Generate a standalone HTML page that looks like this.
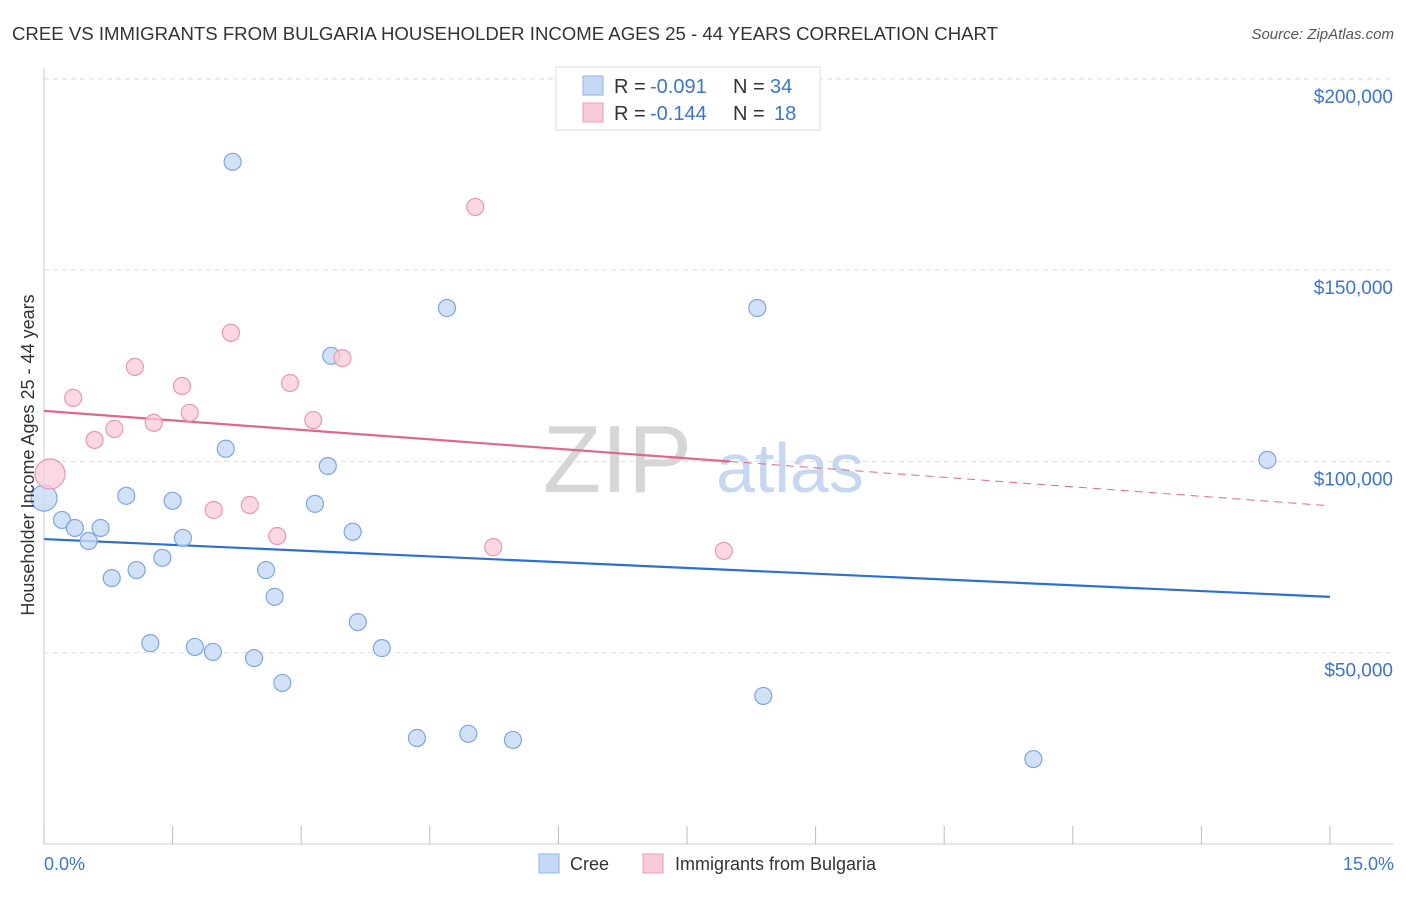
<!DOCTYPE html>
<html><head><meta charset="utf-8"><style>
body{margin:0;background:#fff;font-family:"Liberation Sans",sans-serif;}
svg text{font-family:"Liberation Sans",sans-serif;}
</style></head><body>
<svg id="chart" width="1406" height="892" xmlns="http://www.w3.org/2000/svg">
<text x="12" y="40" font-size="18" fill="#333" textLength="986" lengthAdjust="spacingAndGlyphs">CREE VS IMMIGRANTS FROM BULGARIA HOUSEHOLDER INCOME AGES 25 - 44 YEARS CORRELATION CHART</text>
<text x="1394" y="39" font-size="15" fill="#555" font-style="italic" text-anchor="end">Source: ZipAtlas.com</text>
<g id="grid"></g>
<text x="692" y="492" font-size="96" fill="#d6d6d6" font-family="Liberation Serif" text-anchor="end">ZIP</text>
<text x="716" y="492" font-size="70" fill="#c6d7ef">atlas</text>
<g id="lines"></g>
<g id="points"></g>
<text x="34" y="455" font-size="18" fill="#333" text-anchor="middle" transform="rotate(-90 34 455)">Householder Income Ages 25 - 44 years</text>
<text x="44" y="870" font-size="18" fill="#3b74d1">0.0%</text>
<text x="1394" y="870" font-size="18" fill="#3b74d1" text-anchor="end">15.0%</text>
<g>
<rect x="556" y="67" width="264" height="63" fill="#fff" stroke="#ddd"/>
<rect x="583" y="76" width="20" height="19" fill="#c5d9f5" stroke="#8fb2e6"/>
<rect x="583" y="103" width="20" height="19" fill="#f9cbd8" stroke="#ea9db6"/>
<text x="614" y="93" font-size="20" fill="#333">R =</text>
<text x="650" y="93" font-size="20" fill="#3b74d1">-0.091</text>
<text x="733" y="93" font-size="20" fill="#333">N =</text>
<text x="770" y="93" font-size="20" fill="#3b74d1">34</text>
<text x="614" y="120" font-size="20" fill="#333">R =</text>
<text x="650" y="120" font-size="20" fill="#3b74d1">-0.144</text>
<text x="733" y="120" font-size="20" fill="#333">N =</text>
<text x="774" y="120" font-size="20" fill="#3b74d1">18</text>
</g>
<g>
<rect x="539" y="854" width="20" height="19" fill="#c5d9f5" stroke="#8fb2e6"/>
<text x="570" y="870" font-size="18" fill="#333">Cree</text>
<rect x="643" y="854" width="20" height="19" fill="#f9cbd8" stroke="#ea9db6"/>
<text x="675" y="870" font-size="18" fill="#333">Immigrants from Bulgaria</text>
</g>
</svg>
<script>
const yTicks=[50000,100000,150000,200000];
const yTickLabels=["$50,000","$100,000","$150,000","$200,000"];
const xTicks=[0,1.5,3,4.5,6,7.5,9,10.5,12,13.5,15];
const creeX=[2.20,4.70,8.32,3.35,2.12,14.27,3.31,0.96,1.50,3.16,0.0,0.21,0.36,0.66,0.52,1.62,3.60,1.38,1.08,2.59,0.79,2.69,3.66,1.24,1.76,1.97,2.45,3.94,2.78,8.39,4.35,4.95,5.47,11.54];
const creeY=[178300,140100,140100,127600,103300,100400,98800,91000,89700,88900,90400,84700,82600,82600,79200,80000,81600,74800,71600,71600,69500,64600,58000,52500,51500,50200,48600,51200,42100,38700,27700,28800,27200,22200];
const bulX=[5.03,2.18,1.06,3.48,2.87,1.61,0.34,1.70,3.14,1.28,0.82,0.59,0.07,2.40,1.98,2.72,5.24,7.93];
const bulY=[166500,133600,124700,127000,120500,119700,116600,112700,110800,110100,108500,105600,96700,88600,87300,80500,77600,76600];
const creeTrend=[79700,64600];
const bulTrend=[113200,88400];
const bulSolidEnd=8.0;
const NS="http://www.w3.org/2000/svg";
const sx=v=>44+v/15*1286, sy=v=>844-v/50000*191.3;
function mk(t,a,p){const e=document.createElementNS(NS,t);for(const k in a)e.setAttribute(k,a[k]);p.appendChild(e);return e;}
const grid=document.getElementById('grid');
yTicks.forEach((t,i)=>{
 const l=mk('line',{x1:44,x2:1394,y1:sy(t),y2:sy(t),stroke:'#ddd','stroke-dasharray':'5,4'},grid);
 
 
 const tx=mk('text',{x:1393,y:sy(t)+24,'font-size':19,fill:'#3b74d1','text-anchor':'end'},grid);
 tx.textContent=yTickLabels[i];
 
 
});
const topg=mk('line',{x1:44,x2:1394,y1:79,y2:79,stroke:'#ddd','stroke-dasharray':'5,4'},grid);


const ya=mk('line',{x1:44,x2:44,y1:68,y2:844,stroke:'#ccc'},grid);


const xa=mk('line',{x1:44,x2:1394,y1:844,y2:844,stroke:'#ccc'},grid);


xTicks.forEach(t=>{
 const l=mk('line',{x1:sx(t),x2:sx(t),y1:826,y2:844,stroke:'#bbb'},grid);
 
 
});
const lines=document.getElementById('lines');
const cl=mk('line',{x1:sx(0),y1:sy(creeTrend[0]),x2:sx(15),y2:sy(creeTrend[1]),stroke:'#2d6fd3','stroke-width':2.2},lines);


const yAt=x=>bulTrend[0]+(bulTrend[1]-bulTrend[0])*x/15;
const bl=mk('line',{x1:sx(0),y1:sy(bulTrend[0]),x2:sx(bulSolidEnd),y2:sy(yAt(bulSolidEnd)),stroke:'#e0668e','stroke-width':2.2},lines);


const bd=mk('line',{x1:sx(bulSolidEnd),y1:sy(yAt(bulSolidEnd)),x2:sx(15),y2:sy(bulTrend[1]),stroke:'#e0668e','stroke-width':1,'stroke-dasharray':'8,6'},lines);


const pts=document.getElementById('points');
creeX.forEach((x,i)=>{
 const c=mk('circle',{cx:sx(x),cy:sy(creeY[i]),r:x<0.05?13:8.5,fill:'#c5d9f5','fill-opacity':0.8,stroke:'#7ea6e0','stroke-width':1.2},pts);
 
 
});
bulX.forEach((x,i)=>{
 const c=mk('circle',{cx:sx(x),cy:sy(bulY[i]),r:x<0.1?15:8.5,fill:'#f9cbd8','fill-opacity':0.75,stroke:'#e897b2','stroke-width':1.2},pts);
 
 
});
</script>
</body></html>
